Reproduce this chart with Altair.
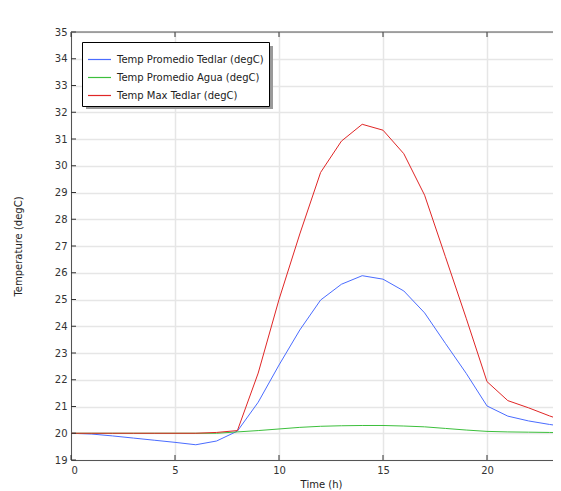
import altair as alt
import pandas as pd

hours = list(range(0, 25))
temp_prom_tedlar = [20.0, 19.97, 19.9, 19.82, 19.74, 19.66, 19.57, 19.71, 20.08, 21.16, 22.55,
                    23.86, 24.98, 25.57, 25.89, 25.76, 25.32, 24.5, 23.36, 22.24, 21.02,
                    20.64, 20.46, 20.33, 20.22]
temp_prom_agua = [20.0, 20.0, 20.0, 20.0, 20.0, 20.0, 20.0, 20.0, 20.05, 20.1, 20.16,
                  20.22, 20.26, 20.28, 20.29, 20.29, 20.27, 20.24, 20.18, 20.12, 20.07,
                  20.05, 20.04, 20.03, 20.02]
temp_max_tedlar = [20.0, 20.0, 20.0, 20.0, 20.0, 20.0, 20.0, 20.03, 20.1, 22.25, 25.0,
                   27.45, 29.75, 30.92, 31.55, 31.33, 30.45, 28.9, 26.6, 24.3, 21.93,
                   21.22, 20.95, 20.65, 20.38]

series_names = ["Temp Promedio Tedlar (degC)", "Temp Promedio Agua (degC)", "Temp Max Tedlar (degC)"]
series_colors = ["#4a6cff", "#3cbf3c", "#e02626"]
x_ticks = [0, 5, 10, 15, 20]
y_ticks = list(range(19, 36))

rows = []
for name, vals in zip(series_names, [temp_prom_tedlar, temp_prom_agua, temp_max_tedlar]):
    for h, v in zip(hours, vals):
        rows.append({"time": h, "temp": v, "series": name})
df = pd.DataFrame(rows)

W, H = 482, 428
PX_PER_HOUR = 20.8
FONT = "DejaVu Sans"

xscale = alt.Scale(domain=[0, W / PX_PER_HOUR], nice=False, zero=False)
yscale = alt.Scale(domain=[19, 35], nice=False, zero=False)

lines = alt.Chart(df).mark_line(strokeWidth=1, clip=True).encode(
    x=alt.X("time:Q", scale=xscale,
            axis=alt.Axis(values=x_ticks, title="Time (h)", ticks=False, labelPadding=5,
                          titleX=250, titleY=24, titleBaseline="middle", titleAlign="center")),
    y=alt.Y("temp:Q", scale=yscale,
            axis=alt.Axis(values=y_ticks, title="Temperature (degC)", ticks=False, labelPadding=4,
                          labelOverlap=False,
                          titleX=-53, titleY=214, titleAngle=270, titleAlign="center",
                          titleBaseline="middle")),
    color=alt.Color("series:N",
                    scale=alt.Scale(domain=series_names, range=series_colors),
                    sort=series_names,
                    legend=alt.Legend(orient="none", legendX=11, legendY=10, title=None,
                                      symbolType="stroke", symbolSize=529, symbolStrokeWidth=1.2,
                                      labelFont=FONT, labelFontSize=10, labelColor="#222",
                                      labelLimit=400,
                                      fillColor="white", strokeColor="black", padding=5,
                                      rowPadding=0, labelOffset=5)),
    detail="series:N",
)

shadow = alt.Chart(pd.DataFrame({"a": [0]})).mark_rect(color="#999999").encode(
    x=alt.value(15), x2=alt.value(202), y=alt.value(14), y2=alt.value(77)
)

left_ticks = alt.Chart(pd.DataFrame({"tv": y_ticks})).mark_rule(color="#333", strokeWidth=1).encode(
    y=alt.Y("tv:Q", scale=yscale, axis=None), x=alt.value(0), x2=alt.value(5)
)
bottom_ticks = alt.Chart(pd.DataFrame({"th": x_ticks})).mark_rule(color="#333", strokeWidth=1).encode(
    x=alt.X("th:Q", scale=xscale, axis=None), y=alt.value(H), y2=alt.value(H - 5)
)
top_ticks = alt.Chart(pd.DataFrame({"th": x_ticks})).mark_rule(color="#333", strokeWidth=1).encode(
    x=alt.X("th:Q", scale=xscale, axis=None), y=alt.value(0), y2=alt.value(5)
)
top_frame = alt.Chart(pd.DataFrame({"a": [0]})).mark_rule(color="#555", strokeWidth=1).encode(
    x=alt.value(0), x2=alt.value(W), y=alt.value(0)
)

chart = alt.layer(shadow, lines, left_ticks, bottom_ticks, top_ticks, top_frame).resolve_axis(
    x="independent", y="independent"
).properties(
    width=W, height=H,
    padding={"left": 63, "top": 24, "right": 0, "bottom": 31},
    autosize=alt.AutoSizeParams(type="none"),
).configure_view(stroke=None).configure_axis(
    labelFont=FONT, labelFontSize=10, labelColor="#333",
    titleFont=FONT, titleFontSize=10, titleFontWeight="normal", titleColor="#222",
    gridColor="#e6e6e6", gridWidth=1.5,
    domainColor="#555", domainWidth=1,
)

chart.save("out.html", embed_options={"renderer": "svg", "actions": False})
